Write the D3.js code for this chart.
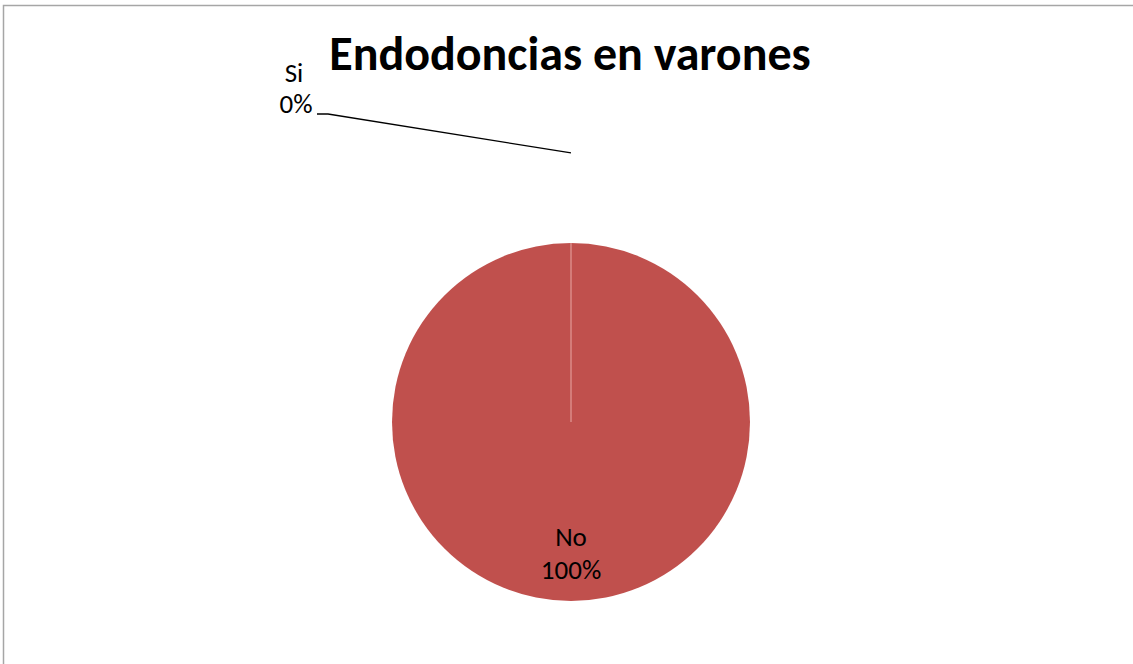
<!DOCTYPE html>
<html><head><meta charset="utf-8">
<script src="https://cdn.jsdelivr.net/npm/d3@7"></script>
<style>
html,body{margin:0;padding:0;background:#fff;}
svg{display:block;}
</style></head>
<body>
<svg id="c" width="1133" height="664"></svg>
<script>
const title = "Endodoncias en varones";
const categories = ["Si", "No"];
const values = [0, 100];
const colors = ["#4F81BD", "#C0504D"];

const svg = d3.select("#c");
const font = "Carlito, 'Liberation Sans', 'Open Sans', sans-serif";

// chart border
svg.append("path")
  .attr("d", "M3.5,664 L3.5,5.5 L1133,5.5")
  .attr("fill", "none").attr("stroke", "#a6a6a6").attr("stroke-width", 1.5);

svg.append("text")
  .attr("x", 570).attr("y", 70)
  .attr("text-anchor", "middle")
  .attr("font-family", font).attr("font-weight", "bold")
  .attr("font-size", 48).attr("fill", "#000")
  .text(title);

const cx = 571, cy = 422, r = 179;
const total = d3.sum(values);
const data = categories.map((c, i) => ({cat: c, value: values[i], color: colors[i]}));
const pie = d3.pie().value(d => d.value).sort(null);
const arcs = pie(data);
const arc = d3.arc().innerRadius(0).outerRadius(r);

const g = svg.append("g").attr("transform", `translate(${cx},${cy})`);
g.selectAll("path.slice").data(arcs).enter().append("path")
  .attr("class", "slice")
  .attr("d", arc)
  .attr("fill", d => d.data.color);

// thin light edge of zero slice
arcs.filter(d => d.endAngle - d.startAngle === 0).forEach(d => {
  const a = d.startAngle;
  g.append("line")
    .attr("x1", 0).attr("y1", 0)
    .attr("x2", Math.sin(a) * r).attr("y2", -Math.cos(a) * r)
    .attr("stroke", "#e8a8a6").attr("stroke-width", 1);
});

const pct = v => Math.round(v / total * 100) + "%";

arcs.forEach(d => {
  if (d.value > 0) {
    const lab = g.append("text")
      .attr("text-anchor", "middle")
      .attr("font-family", font).attr("font-size", 27).attr("fill", "#000");
    lab.append("tspan").attr("x", 0).attr("y", 124).text(d.data.cat);
    lab.append("tspan").attr("x", 0).attr("y", 157).text(pct(d.value));
  } else {
    const a = (d.startAngle + d.endAngle) / 2;
    const rr = r * 1.503;
    const ex = Math.sin(a) * rr, ey = -Math.cos(a) * rr;
    const lx = 328 - cx, ly = 114 - cy;
    g.append("polyline")
      .attr("points", `${ex},${ey} ${lx},${ly} ${lx - 11},${ly}`)
      .attr("fill", "none").attr("stroke", "#000").attr("stroke-width", 1.3);
    const lab = g.append("text")
      .attr("text-anchor", "middle")
      .attr("font-family", font).attr("font-size", 27).attr("fill", "#000");
    lab.append("tspan").attr("x", 294 - cx).attr("y", 82 - cy).text(d.data.cat);
    lab.append("tspan").attr("x", 296 - cx).attr("y", 113 - cy).text(pct(d.value));
  }
});
</script>
</body></html>
